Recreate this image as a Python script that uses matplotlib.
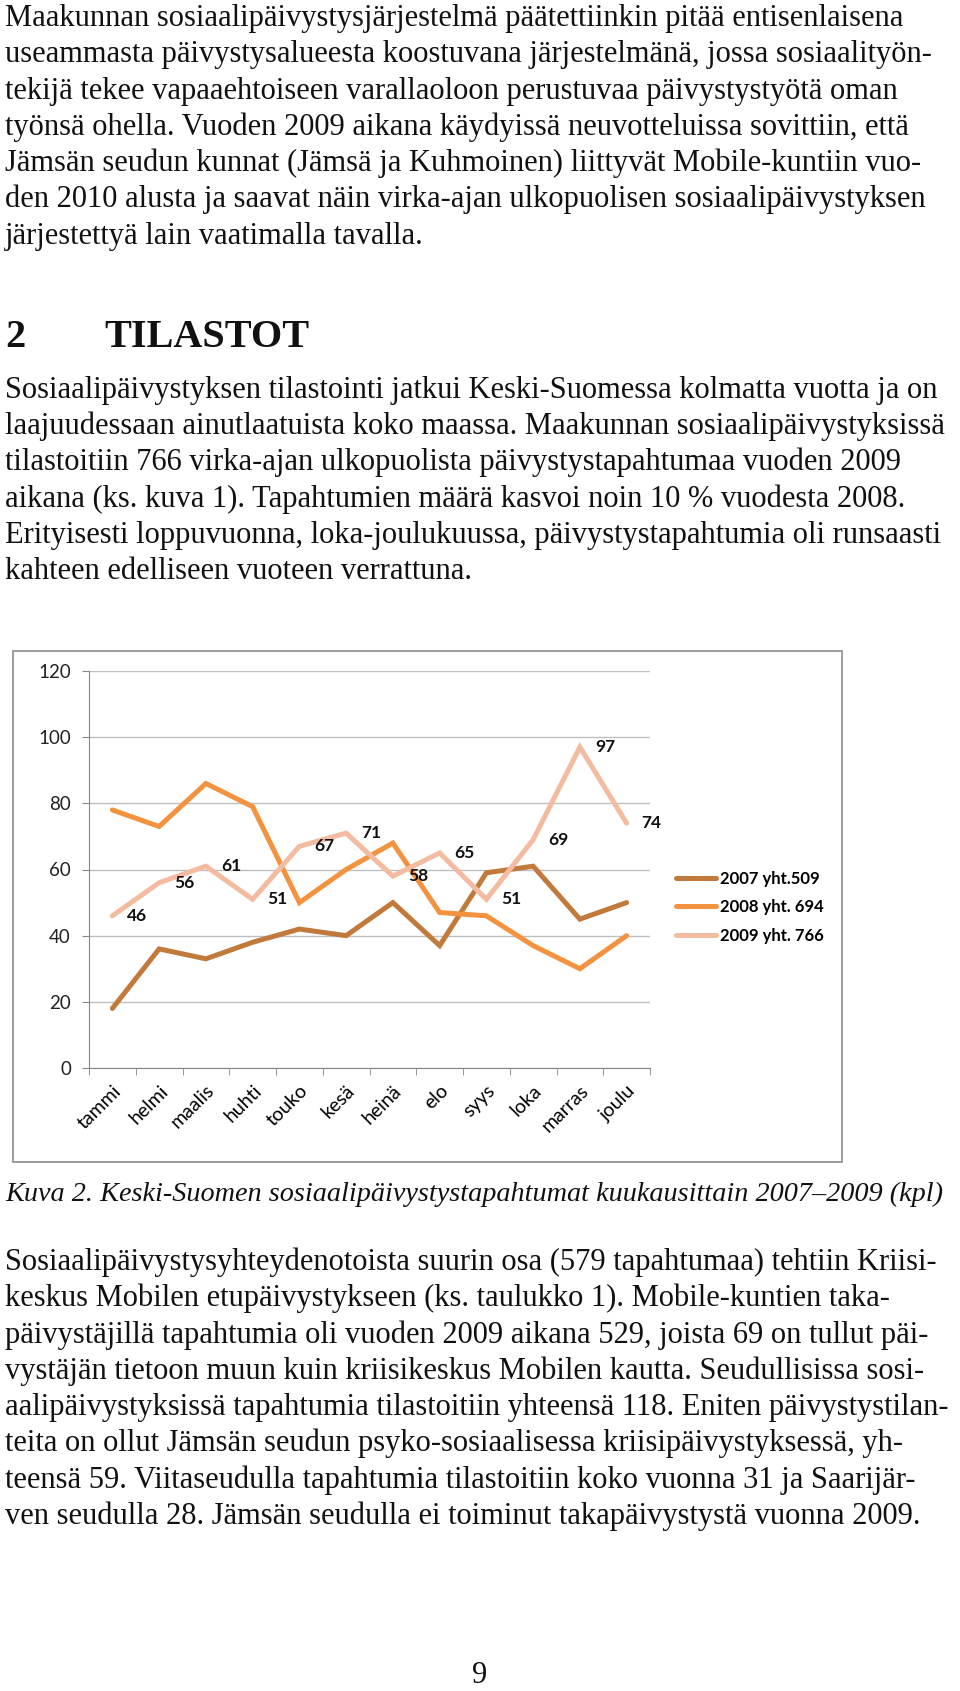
import matplotlib
matplotlib.use("Agg")
import matplotlib.pyplot as plt
from matplotlib.patches import Rectangle

W, H = 960, 1691

# chart data (monthly counts)
months = ['tammi', 'helmi', 'maalis', 'huhti', 'touko', 'kesä',
          'heinä', 'elo', 'syys', 'loka', 'marras', 'joulu']
v2007 = [18, 36, 33, 38, 42, 40, 50, 37, 59, 61, 45, 50]
v2008 = [78, 73, 86, 79, 50, 60, 68, 47, 46, 37, 30, 40]
v2009 = [46, 56, 61, 51, 67, 71, 58, 65, 51, 69, 97, 74]
series_names = ['2007 yht.509', '2008 yht. 694', '2009 yht. 766']
yticks = [0, 20, 40, 60, 80, 100, 120]

# page text
para1 = [
    "Maakunnan sosiaalipäivystysjärjestelmä päätettiinkin pitää entisenlaisena",
    "useammasta päivystysalueesta koostuvana järjestelmänä, jossa sosiaalityön-",
    "tekijä tekee vapaaehtoiseen varallaoloon perustuvaa päivystystyötä oman",
    "työnsä ohella. Vuoden 2009 aikana käydyissä neuvotteluissa sovittiin, että",
    "Jämsän seudun kunnat (Jämsä ja Kuhmoinen) liittyvät Mobile-kuntiin vuo-",
    "den 2010 alusta ja saavat näin virka-ajan ulkopuolisen sosiaalipäivystyksen",
    "järjestettyä lain vaatimalla tavalla.",
]
para2 = [
    "Sosiaalipäivystyksen tilastointi jatkui Keski-Suomessa kolmatta vuotta ja on",
    "laajuudessaan ainutlaatuista koko maassa. Maakunnan sosiaalipäivystyksissä",
    "tilastoitiin 766 virka-ajan ulkopuolista päivystystapahtumaa vuoden 2009",
    "aikana (ks. kuva 1). Tapahtumien määrä kasvoi noin 10 % vuodesta 2008.",
    "Erityisesti loppuvuonna, loka-joulukuussa, päivystystapahtumia oli runsaasti",
    "kahteen edelliseen vuoteen verrattuna.",
]
para3 = [
    "Sosiaalipäivystysyhteydenotoista suurin osa (579 tapahtumaa) tehtiin Kriisi-",
    "keskus Mobilen etupäivystykseen (ks. taulukko 1). Mobile-kuntien taka-",
    "päivystäjillä tapahtumia oli vuoden 2009 aikana 529, joista 69 on tullut päi-",
    "vystäjän tietoon muun kuin kriisikeskus Mobilen kautta. Seudullisissa sosi-",
    "aalipäivystyksissä tapahtumia tilastoitiin yhteensä 118. Eniten päivystystilan-",
    "teita on ollut Jämsän seudun psyko-sosiaalisessa kriisipäivystyksessä, yh-",
    "teensä 59. Viitaseudulla tapahtumia tilastoitiin koko vuonna 31 ja Saarijär-",
    "ven seudulla 28. Jämsän seudulla ei toiminut takapäivystystä vuonna 2009.",
]
caption = "Kuva 2. Keski-Suomen sosiaalipäivystystapahtumat kuukausittain 2007–2009 (kpl)"

fig = plt.figure(figsize=(W / 100, H / 100), dpi=100)
serif = 'Liberation Serif'
body_size = 22


def fx(px):
    return px / W


def fy(py):
    return 1 - py / H


def put_lines(lines, first_base, step):
    for i, line in enumerate(lines):
        fig.text(fx(5), fy(first_base + i * step), line, family=serif,
                 fontsize=body_size, va='baseline', ha='left', color='#111111')


put_lines(para1, 26, 36.3)
fig.text(fx(5), fy(347), "2", family=serif, fontsize=29, fontweight='bold',
         va='baseline', color='#111111')
fig.text(fx(104), fy(347), "TILASTOT", family=serif, fontsize=29, fontweight='bold',
         va='baseline', color='#111111')
put_lines(para2, 398, 36.2)
fig.text(fx(5), fy(1201), caption, family=serif, fontsize=20.3,
         style='italic', va='baseline', color='#111111')
put_lines(para3, 1270, 36.3)
fig.text(fx(480), fy(1683), "9", family=serif, fontsize=body_size,
         va='baseline', ha='center', color='#111111')

# chart frame
fig.patches.append(Rectangle((fx(13), fy(1162)), fx(842) - fx(13), fy(651) - fy(1162),
                             transform=fig.transFigure, fill=False,
                             edgecolor='#8c8c8c', linewidth=1.2))

ax = fig.add_axes([fx(89), fy(1068), fx(650) - fx(89), fy(671) - fy(1068)])
x = list(range(len(months)))
colors = ['#c27a3c', '#f3923f', '#f3bba0']
lines = []
for vals, col, name in zip([v2007, v2008, v2009], colors, series_names):
    ln, = ax.plot(x, vals, color=col, linewidth=3.6, label=name,
                  solid_joinstyle='miter', solid_capstyle='round')
    lines.append(ln)

for xi, v in zip(x, v2009):
    ax.annotate(str(v), (xi, v), xytext=(18, 0), textcoords='offset points',
                ha='center', va='center', fontsize=12.5, fontweight='bold',
                family='Lato', color='#111111')

ax.set_xlim(-0.5, 11.5)
ax.set_ylim(0, 120)
ax.set_yticks(yticks)
ax.set_xticks(x)
ax.set_xticks([i - 0.5 for i in range(13)], minor=True)
ax.set_xticklabels(months, rotation=45, ha='right', rotation_mode='anchor',
                   family='Lato', fontsize=14)
ax.tick_params(axis='x', which='major', length=0, pad=10)
ax.tick_params(axis='x', which='minor', length=5, color='#868686', direction='out')
ax.tick_params(axis='y', length=5, color='#868686', pad=8, labelsize=13.5,
               labelcolor='#222222')
for lab in ax.get_yticklabels():
    lab.set_family('Lato')
ax.grid(axis='y', color='#bfbfbf', linewidth=1)
ax.set_axisbelow(True)
for s in ['top', 'right']:
    ax.spines[s].set_visible(False)
for s in ['left', 'bottom']:
    ax.spines[s].set_color('#868686')

ax.legend(handles=lines, loc='center left', bbox_to_anchor=(1.02, 0.405),
          frameon=False, handlelength=2.4, handletextpad=0.2, labelspacing=0.75,
          prop={'family': 'Lato', 'weight': 'bold', 'size': 12})

fig.savefig('out.png', dpi=100)
